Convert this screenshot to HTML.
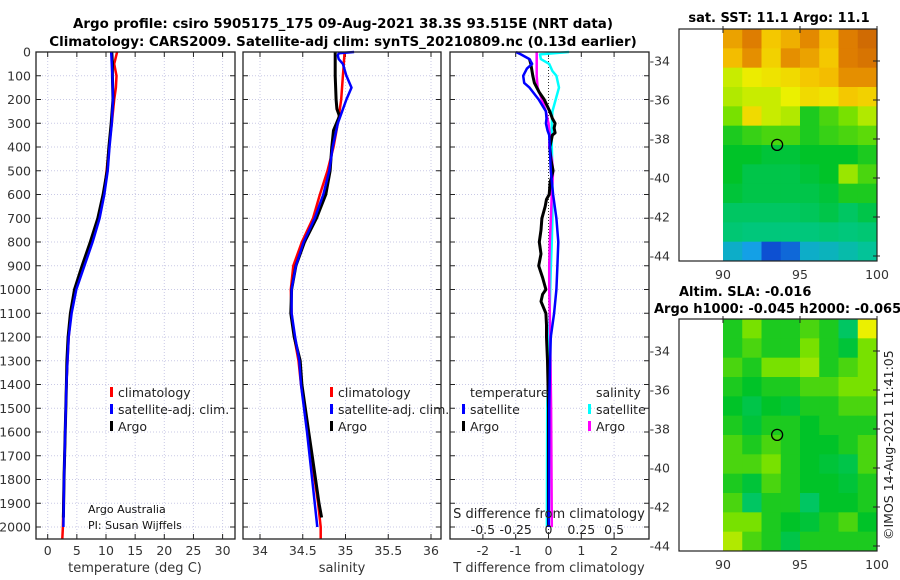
<!DOCTYPE html>
<html><head><meta charset="utf-8"><style>
html,body{margin:0;padding:0;background:#fff;width:900px;height:580px;overflow:hidden}
svg{display:block;font-family:"DejaVu Sans","Liberation Sans",sans-serif}
</style></head><body>
<svg id="fig" width="900" height="580" viewBox="0 0 900 580" xmlns="http://www.w3.org/2000/svg">
<g font-weight="bold" font-size="13.4" text-anchor="middle" fill="#000">
<text x="343" y="28">Argo profile: csiro 5905175_175 09-Aug-2021 38.3S 93.515E (NRT data)</text>
<text x="343" y="46">Climatology: CARS2009. Satellite-adj clim: synTS_20210809.nc (0.13d earlier)</text>
</g>
<g id="plots"></g>
</svg>
<script>
// ---------- data ----------
const depthTicks = [0,100,200,300,400,500,600,700,800,900,1000,1100,1200,1300,1400,1500,1600,1700,1800,1900,2000];
const tempTicks = [0,5,10,15,20,25,30];
const salTicks = [34,34.5,35,35.5,36];
const salTickLabels = ["34","34.5","35","35.5","36"];
const tdiffTicks = [-2,-1,0,1,2];
const sdiffTicks = [-0.5,-0.25,0,0.25,0.5];
const sdiffTickLabels = ["-0.5","-0.25","0","0.25","0.5"];

const tClimDepth = [0,50,100,150,200,250,300,400,500,600,700,800,900,1000,1100,1200,1300,1400,1600,1800,2000,2050];
const tClim      = [11.9,11.4,11.8,11.7,11.4,11.2,11.0,10.5,10.1,9.6,8.6,7.4,6.0,4.7,4.0,3.6,3.4,3.2,3.0,2.8,2.6,2.5];
const tSatDepth = [0,50,100,200,300,400,500,600,700,800,900,1000,1100,1200,1300,1400,1600,1800,2000];
const tSat      = [10.9,11.0,11.1,11.2,11.0,10.6,10.3,9.7,8.9,7.7,6.3,4.9,4.1,3.6,3.4,3.2,3.0,2.8,2.7];
const tArgoDepth = [0,50,100,200,300,400,500,600,700,800,900,1000,1100,1200,1300,1400,1600,1800,1960];
const tArgo      = [11.0,11.1,11.1,11.2,10.9,10.5,10.2,9.5,8.6,7.3,5.9,4.6,3.9,3.5,3.3,3.2,3.0,2.8,2.7];

const sClimDepth = [0,50,100,200,300,400,500,600,700,800,900,1000,1100,1200,1300,1400,1500,1600,1700,1800,1900,2000,2050];
const sClim      = [34.99,34.98,34.97,34.95,34.91,34.86,34.79,34.70,34.62,34.49,34.39,34.36,34.37,34.40,34.45,34.48,34.52,34.56,34.60,34.64,34.68,34.71,34.71];
const sSatDepth = [0,5,15,30,50,100,150,200,250,300,400,500,600,700,800,900,1000,1100,1200,1300,1400,1600,1800,2000];
const sSat      = [35.10,34.92,34.91,34.92,34.97,35.01,35.07,35.01,34.96,34.91,34.85,34.81,34.74,34.64,34.51,34.42,34.37,34.37,34.41,34.46,34.48,34.55,34.61,34.67];
const sArgoDepth = [0,100,200,240,270,330,400,500,600,700,800,900,1000,1100,1200,1300,1400,1500,1600,1700,1800,1900,1960];
const sArgo      = [34.88,34.88,34.89,34.90,34.93,34.86,34.84,34.82,34.77,34.66,34.52,34.42,34.37,34.36,34.40,34.47,34.49,34.53,34.57,34.61,34.65,34.69,34.72];

const dSatTDepth = [0,10,30,50,70,100,130,150,200,250,280,300,330,350,400,500,600,700,800,900,1000,1100,1200,1300,1500,2000];
const dSatT      = [-0.99,-0.84,-0.58,-0.5,-0.66,-0.77,-0.74,-0.58,-0.3,-0.08,-0.06,-0.08,-0.03,0.02,0.04,0.07,0.14,0.24,0.3,0.27,0.24,0.17,0.07,0.05,0.02,0.01];
const dArgoTDepth = [30,50,100,130,170,200,250,280,300,320,340,350,400,450,500,550,600,620,650,700,750,800,850,900,950,1000,1020,1050,1100,1150,1200,1300,1500,2000];
const dArgoT      = [-0.58,-0.54,-0.48,-0.43,-0.28,-0.13,0.04,0.12,0.2,0.17,0.2,0.12,0.04,0.07,0.14,0.05,0.02,-0.06,-0.1,-0.2,-0.23,-0.28,-0.23,-0.3,-0.18,-0.08,-0.18,-0.23,-0.08,-0.06,-0.06,-0.03,0.0,0.0];
const dSatSDepth = [0,10,30,50,80,100,150,200,250,300,400,500,600,700,800,900,1000,1300,1500,2000];
const dSatS      = [0.156,-0.065,-0.058,0.005,0.03,0.06,0.08,0.055,0.03,0.025,0.025,0.03,0.03,0.03,0.025,0.018,0.013,0.0,-0.01,-0.012];
const dArgoSDepth = [0,50,100,150,200,250,300,350,400,450,500,600,700,800,900,1000,1100,1300,1500,2000];
const dArgoS      = [-0.09,-0.09,-0.09,-0.083,-0.05,-0.02,0.0,0.01,0.005,0.025,0.035,0.025,0.018,0.01,0.005,0.005,0.01,0.015,0.02,0.025];

const mapLatTicks = [-34,-36,-38,-40,-42,-44];
const mapLonTicks = [90,95,100];
const argoLon = 93.515, argoLat = -38.3;
const sstGrid = [
[0.80,0.86,0.74,0.78,0.84,0.76,0.86,0.90],
[0.76,0.83,0.72,0.83,0.80,0.74,0.86,0.88],
[0.62,0.66,0.68,0.70,0.74,0.76,0.83,0.83],
[0.60,0.62,0.62,0.65,0.70,0.68,0.74,0.72],
[0.55,0.70,0.62,0.60,0.45,0.50,0.55,0.60],
[0.45,0.48,0.50,0.50,0.45,0.48,0.50,0.52],
[0.42,0.42,0.40,0.40,0.42,0.42,0.42,0.45],
[0.42,0.38,0.38,0.38,0.40,0.42,0.58,0.50],
[0.40,0.38,0.38,0.38,0.38,0.40,0.45,0.45],
[0.35,0.35,0.35,0.35,0.36,0.38,0.35,0.38],
[0.33,0.32,0.32,0.32,0.32,0.33,0.32,0.33],
[0.20,0.15,0.05,0.08,0.20,0.22,0.25,0.28]];
const slaGrid = [
[0.45,0.55,0.45,0.45,0.50,0.45,0.35,0.65],
[0.45,0.50,0.45,0.45,0.55,0.45,0.40,0.55],
[0.50,0.45,0.55,0.55,0.58,0.45,0.50,0.55],
[0.45,0.42,0.45,0.45,0.50,0.50,0.55,0.55],
[0.42,0.38,0.42,0.40,0.45,0.45,0.50,0.50],
[0.45,0.40,0.45,0.45,0.42,0.45,0.45,0.45],
[0.50,0.45,0.50,0.45,0.42,0.42,0.45,0.50],
[0.50,0.50,0.55,0.45,0.42,0.40,0.38,0.50],
[0.45,0.40,0.50,0.45,0.42,0.42,0.40,0.45],
[0.50,0.35,0.45,0.45,0.35,0.42,0.42,0.45],
[0.55,0.55,0.45,0.42,0.40,0.45,0.50,0.42],
[0.60,0.50,0.45,0.38,0.45,0.45,0.45,0.45]];

// ---------- helpers ----------
const NS="http://www.w3.org/2000/svg";
const root=document.getElementById('plots');
function mk(tag,attrs,parent){const e=document.createElementNS(NS,tag);for(const k in attrs)e.setAttribute(k,attrs[k]);(parent||root).appendChild(e);return e;}
function txt(s,attrs,parent){const e=mk('text',attrs,parent);e.textContent=s;return e;}

const TOP=52, BOT=539;
const yD = d => TOP + d*0.2375;
const panels = [
 {name:'temperature-panel', x0:36, x1:235, f:v=>47.7+v*5.83},
 {name:'salinity-panel', x0:243, x1:441, f:v=>260+(v-34)*85.5},
 {name:'difference-panel', x0:450, x1:649, f:v=>548.5+v*32.8}
];
const fS = v=>548.5+v*131.2;

function frame(p, ticks, labels){
  const g=mk('g',{});
  
  
  const grid=mk('g',{stroke:'#c9c9e6','stroke-width':1,'stroke-dasharray':'1,2'},g);
  
  
  depthTicks.forEach(d=>{ if(d>0) mk('line',{x1:p.x0,x2:p.x1,y1:yD(d),y2:yD(d)},grid); });
  ticks.forEach(v=>{ const x=p.f(v); mk('line',{x1:x,x2:x,y1:TOP,y2:BOT},grid); });
  const tk=mk('g',{stroke:'#222','stroke-width':1},g);
  depthTicks.forEach(d=>{ const y=yD(d); mk('line',{x1:p.x0,x2:p.x0+5,y1:y,y2:y},tk); mk('line',{x1:p.x1-5,x2:p.x1,y1:y,y2:y},tk); });
  ticks.forEach(v=>{ const x=p.f(v); mk('line',{x1:x,x2:x,y1:BOT-5,y2:BOT},tk); mk('line',{x1:x,x2:x,y1:TOP,y2:TOP+5},tk); });
  const xl=mk('g',{'font-size':12.5,fill:'#333','text-anchor':'middle'},g);
  
  
  ticks.forEach((v,i)=>{ txt(labels[i],{x:p.f(v),y:555},xl); });
  return g;
}
function line(g, xs, ds, f, color, w, name){
  const pts=xs.map((v,i)=>f(v).toFixed(1)+','+yD(ds[i]).toFixed(1)).join(' ');
  const e=mk('polyline',{points:pts,fill:'none',stroke:color,'stroke-width':w,'stroke-linejoin':'round'},g);
  
  
}
function border(p,g){ mk('rect',{x:p.x0,y:TOP,width:p.x1-p.x0,height:BOT-TOP,fill:'none',stroke:'#222','stroke-width':1.3},g); }
function legendEntry(g,x,y,color,label,name){
  const e=mk('g',{},g);
  
  
  mk('rect',{x:x,y:y-10,width:3,height:10,fill:color},e);
  txt(label,{x:x+8,y:y,'font-size':12.5,fill:'#222'},e);
}

const dl=mk('g',{'font-size':12.5,fill:'#333','text-anchor':'end'});


depthTicks.forEach(d=>txt(String(d),{x:31,y:yD(d)+4.5},dl));

const p1=panels[0];
const g1=frame(p1,tempTicks,tempTicks.map(String));
line(g1,tClim,tClimDepth,p1.f,'#f00',2.5,'temperature-climatology-line');
line(g1,tArgo,tArgoDepth,p1.f,'#000',3,'temperature-argo-line');
line(g1,tSat,tSatDepth,p1.f,'#00f',2.5,'temperature-satellite-line');
border(p1,g1);
const t1=txt('temperature (deg C)',{x:135,y:572,'font-size':13,'text-anchor':'middle',fill:'#333'},g1);


legendEntry(g1,110,397,'#f00','climatology','legend-climatology');
legendEntry(g1,110,414,'#00f','satellite-adj. clim.','legend-satellite-adj');
legendEntry(g1,110,431,'#000','Argo','legend-argo');
const cr=txt('Argo Australia',{x:88,y:513,'font-size':11,fill:'#111'},g1);


const pi=txt('PI: Susan Wijffels',{x:88,y:529,'font-size':11,fill:'#111'},g1);



const p2=panels[1];
const g2=frame(p2,salTicks,salTickLabels);
line(g2,sClim,sClimDepth,p2.f,'#f00',2.5,'salinity-climatology-line');
line(g2,sArgo,sArgoDepth,p2.f,'#000',3,'salinity-argo-line');
line(g2,sSat,sSatDepth,p2.f,'#00f',2.5,'salinity-satellite-line');
border(p2,g2);
const t2=txt('salinity',{x:342,y:572,'font-size':13,'text-anchor':'middle',fill:'#333'},g2);


legendEntry(g2,330,397,'#f00','climatology','legend-climatology-2');
legendEntry(g2,330,414,'#00f','satellite-adj. clim.','legend-satellite-adj-2');
legendEntry(g2,330,431,'#000','Argo','legend-argo-2');

const p3=panels[2];
const g3=frame(p3,tdiffTicks,tdiffTicks.map(String));
const zl=mk('line',{x1:p3.f(0),x2:p3.f(0),y1:TOP,y2:BOT,stroke:'#333','stroke-dasharray':'1,2'},g3);


line(g3,dSatS,dSatSDepth,fS,'#0ff',2.5,'salinity-satellite-diff-line');
line(g3,dArgoS,dArgoSDepth,fS,'#f0f',2.5,'salinity-argo-diff-line');
line(g3,dArgoT,dArgoTDepth,p3.f,'#000',3,'temperature-argo-diff-line');
line(g3,dSatT,dSatTDepth,p3.f,'#00f',2.5,'temperature-satellite-diff-line');
border(p3,g3);
const t3=txt('T difference from climatology',{x:549,y:572,'font-size':13,'text-anchor':'middle',fill:'#333'},g3);


const s3=txt('S difference from climatology',{x:549,y:518,'font-size':13,'text-anchor':'middle',fill:'#222'},g3);


const sl=mk('g',{'font-size':12.5,fill:'#222','text-anchor':'middle'},g3);


sdiffTicks.forEach((v,i)=>txt(sdiffTickLabels[i],{x:fS(v),y:534},sl));
const lt=txt('temperature',{x:470,y:397,'font-size':12.5,fill:'#222'},g3);


const ls=txt('salinity',{x:596,y:397,'font-size':12.5,fill:'#222'},g3);


legendEntry(g3,462,414,'#00f','satellite','legend-t-satellite');
legendEntry(g3,462,431,'#000','Argo','legend-t-argo');
legendEntry(g3,588,414,'#0ff','satellite','legend-s-satellite');
legendEntry(g3,588,431,'#f0f','Argo','legend-s-argo');

// ---------- maps ----------
const cmStops=[[0,[10,40,200]],[0.15,[20,160,230]],[0.3,[0,200,140]],[0.42,[0,195,40]],[0.55,[120,225,0]],[0.65,[235,240,0]],[0.75,[245,195,0]],[0.85,[225,130,0]],[1,[175,60,10]]];
function cmap(v){for(let i=1;i<cmStops.length;i++){if(v<=cmStops[i][0]){const a=cmStops[i-1],b=cmStops[i];const t=(v-a[0])/(b[0]-a[0]);const c=a[1].map((x,j)=>Math.round(x+(b[1][j]-x)*t));return 'rgb('+c.join(',')+')';}}return 'rgb(175,60,10)';}
const MX0=679, MXD=723, MX1=877;
const lonX = lon => 723 + (lon-90)*15.4;
function drawMap(y0, grid, name){
  const g=mk('g',{});
  
  
  const latY = lat => y0+32 + (-34-lat)*19.5;
  const H=232, rows=grid.length, cols=grid[0].length;
  const cells=mk('g',{},g);
  
  
  grid.forEach((row,r)=>row.forEach((v,c)=>{
    const x=MXD+c*(MX1-MXD)/cols, y=y0+r*H/rows;
    const cell=mk('rect',{x:x.toFixed(2),y:y.toFixed(2),width:((MX1-MXD)/cols+0.5).toFixed(2),height:(H/rows+0.5).toFixed(2),fill:cmap(v)},cells);
    
    
  }));
  mk('rect',{x:MX0,y:y0,width:MX1-MX0,height:H,fill:'none',stroke:'#222','stroke-width':1.2},g);
  const lab=mk('g',{'font-size':12.5,fill:'#333'},g);
  mapLatTicks.forEach(l=>{const y=latY(l);mk('line',{x1:MX1-4,x2:MX1+3,y1:y,y2:y,stroke:'#222'},g);txt(String(l),{x:670,y:y+4.5,'text-anchor':'end'},lab);});
  mapLonTicks.forEach(l=>{const x=lonX(l);mk('line',{x1:x,x2:x,y1:y0-3,y2:y0+4,stroke:'#222'},g);txt(String(l),{x:x,y:y0+H+18,'text-anchor':'middle'},lab);});
  const m=mk('circle',{cx:lonX(argoLon),cy:latY(argoLat),r:5.5,fill:'none',stroke:'#000','stroke-width':1.3},g);
  
  
  return g;
}
drawMap(29, sstGrid, 'sst-map');
drawMap(319, slaGrid, 'sla-map');
const mt=txt('sat. SST: 11.1 Argo: 11.1',{x:779,y:22,'font-size':13,'font-weight':'bold','text-anchor':'middle',fill:'#000'});


const m2=txt('Altim. SLA: -0.016',{x:679,y:296,'font-size':13,'font-weight':'bold',fill:'#000'});


const m3=txt('Argo h1000: -0.045 h2000: -0.065',{x:654,y:313,'font-size':13,'font-weight':'bold',fill:'#000'});


const ts=txt('©IMOS 14-Aug-2021 11:41:05',{x:0,y:0,'font-size':12.5,fill:'#222',transform:'translate(893,540) rotate(-90)'});


</script>
</body></html>
